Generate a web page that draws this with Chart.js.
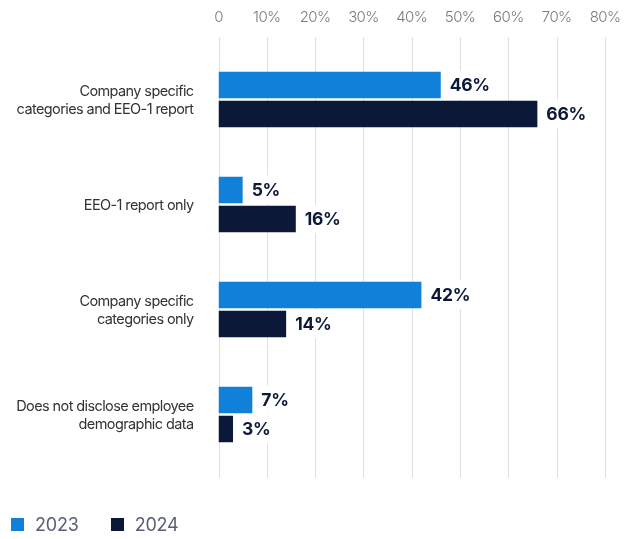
<!DOCTYPE html>
<html>
<head>
<meta charset="utf-8">
<script src="https://cdn.jsdelivr.net/npm/chart.js@4.4.1/dist/chart.umd.min.js"></script>
<style>
  html, body { margin: 0; padding: 0; background: #fff; }
  #wrap { position: relative; width: 638px; height: 539px; }
  #legend { position: absolute; left: 11px; top: 514px; display: flex; align-items: center;
            font-family: Inter, "Liberation Sans", sans-serif; font-size: 18px; color: #5a6075;
            letter-spacing: -0.2px; }
  #legend .item { display: flex; align-items: center; margin-right: 32px; }
  #legend .box { width: 13px; height: 13px; margin-right: 11px; }
</style>
</head>
<body>
<div id="wrap">
  <canvas id="chart" width="638" height="539"></canvas>
  <div id="legend"></div>
</div>
<script>
// Disclosure categories (y axis), one line per array entry
const categories = [
  ["Company specific", "categories and EEO-1 report"],
  ["EEO-1 report only"],
  ["Company specific", "categories only"],
  ["Does not disclose employee", "demographic data"]
];
const seriesNames = ["2023", "2024"];
const values2023 = [46, 5, 42, 7];
const values2024 = [66, 16, 14, 3];
const xTicks = [0, 10, 20, 30, 40, 50, 60, 70, 80];
const seriesColors = ["#1080d8", "#0b1838"];

const FONT = "Inter, 'Liberation Sans', sans-serif";

// Slightly tighter tracking for all canvas text
const tracking = {
  id: "tracking",
  beforeInit(chart) { chart.ctx.letterSpacing = "-0.6px"; },
  beforeDraw(chart) { chart.ctx.letterSpacing = "-0.6px"; }
};

// Vertical guide lines that run a little past the plot area
const guideLines = {
  id: "guideLines",
  beforeDatasetsDraw(chart) {
    const { ctx, chartArea, scales } = chart;
    ctx.save();
    ctx.strokeStyle = "#e0e0e0";
    ctx.lineWidth = 1;
    xTicks.forEach(v => {
      const x = Math.round(scales.x.getPixelForValue(v)) + 0.5;
      ctx.beginPath();
      ctx.moveTo(x, chartArea.top - 10);
      ctx.lineTo(x, chartArea.bottom + 11);
      ctx.stroke();
    });
    ctx.restore();
  }
};

// Percentage labels at the end of each bar, on a white plate
const valueLabels = {
  id: "valueLabels",
  afterDatasetsDraw(chart) {
    const { ctx } = chart;
    ctx.save();
    ctx.letterSpacing = "-0.3px";
    ctx.font = "bold 17.5px " + FONT;
    ctx.textBaseline = "middle";
    ctx.textAlign = "left";
    chart.data.datasets.forEach((ds, i) => {
      chart.getDatasetMeta(i).data.forEach((bar, j) => {
        const txt = ds.data[j] + "%";
        const w = ctx.measureText(txt).width;
        const h = bar.height;
        ctx.fillStyle = "#fff";
        ctx.fillRect(bar.x + 5, bar.y - h / 2 - 1, w + 9, h + 2);
        ctx.fillStyle = "#0b1838";
        ctx.fillText(txt, bar.x + 9, bar.y + 1);
      });
    });
    ctx.restore();
  }
};

const chart = new Chart(document.getElementById("chart"), {
  type: "bar",
  data: {
    labels: categories,
    datasets: [
      { label: seriesNames[0], data: values2023, backgroundColor: seriesColors[0] },
      { label: seriesNames[1], data: values2024, backgroundColor: seriesColors[1] }
    ]
  },
  options: {
    indexAxis: "y",
    responsive: false,
    animation: false,
    categoryPercentage: 0.556,
    barPercentage: 0.908,
    layout: { padding: { top: 8, right: 33, bottom: 72, left: 0 } },
    plugins: {
      legend: { display: false },
      tooltip: { enabled: false }
    },
    scales: {
      x: {
        position: "top",
        min: 0,
        max: 80,
        afterBuildTicks(scale) { scale.ticks = xTicks.map(v => ({ value: v })); },
        afterFit(scale) {
          scale.height = 39;
          scale.paddingLeft = 0;
          scale.paddingRight = 0;
        },
        ticks: {
          callback: v => (v === 0 ? "0" : v + "%"),
          color: "#7a7a7a",
          font: { family: FONT, size: 15, weight: 300 },
          padding: 21,
          maxRotation: 0,
          minRotation: 0
        },
        grid: { display: false, drawTicks: false },
        border: { display: false }
      },
      y: {
        afterFit(scale) { scale.width = 218.5; },
        ticks: {
          color: "#333333",
          font: { family: FONT, size: 14.5, lineHeight: 1.24 },
          padding: 25,
          labelOffset: 1.5
        },
        grid: { display: false, drawTicks: false },
        border: { display: false }
      }
    }
  },
  plugins: [tracking, guideLines, valueLabels]
});

// Legend row built from the dataset names and colours
const legend = document.getElementById("legend");
chart.data.datasets.forEach(ds => {
  const item = document.createElement("div");
  item.className = "item";
  const box = document.createElement("span");
  box.className = "box";
  box.style.background = ds.backgroundColor;
  const label = document.createElement("span");
  label.textContent = ds.label;
  item.appendChild(box);
  item.appendChild(label);
  legend.appendChild(item);
});
</script>
</body>
</html>
